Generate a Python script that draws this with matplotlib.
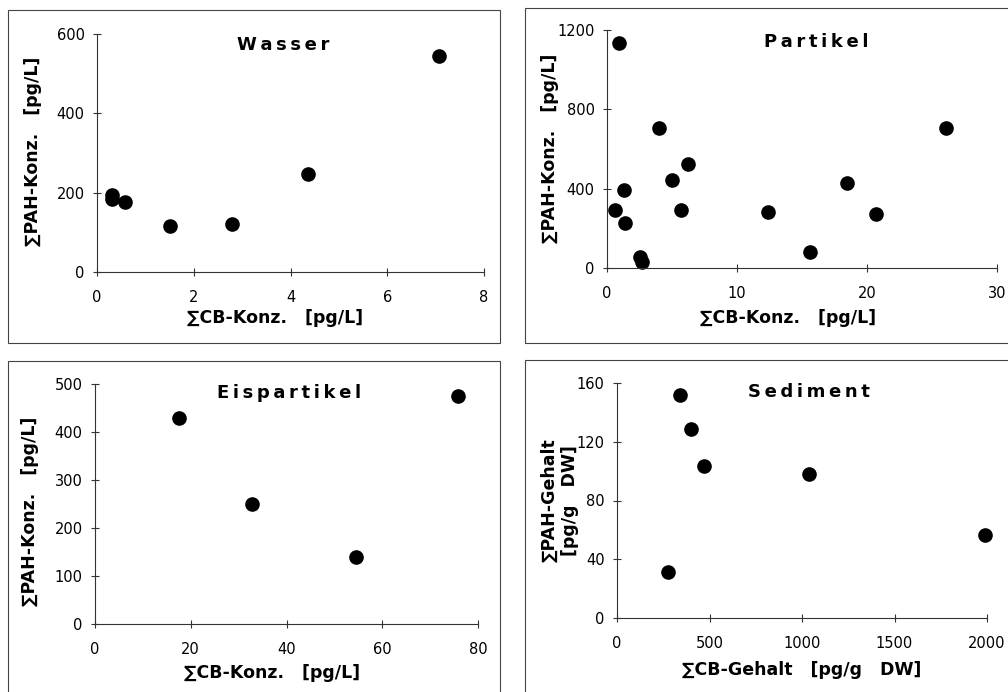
import matplotlib.pyplot as plt
from matplotlib.patches import Rectangle

plt.rcParams['font.family'] = ['DejaVu Sans']

# Wasser
wasser_cb = [0.32, 0.32, 0.58, 1.50, 2.79, 4.37, 7.08]
wasser_pah = [195, 184, 176, 115, 121, 247, 544]

# Partikel
partikel_cb = [0.90, 0.59, 1.28, 1.41, 2.52, 2.70, 3.98, 5.01, 6.24, 5.73,
               12.41, 15.62, 18.44, 20.68, 26.10]
partikel_pah = [1136, 294, 391, 226, 55, 30, 705, 445, 523, 294,
                284, 79, 428, 273, 705]

# Eispartikel
eis_cb = [17.6, 32.7, 54.5, 75.8]
eis_pah = [430, 251, 140, 476]

# Sediment
sed_cb = [339, 402, 472, 274, 1036, 1987]
sed_pah = [152, 128.6, 103.8, 31.4, 97.9, 56.4]

W, H = 1008, 692
fig = plt.figure(figsize=(W / 100, H / 100), dpi=100)


def px_axes(left, right, top, bottom):
    return fig.add_axes([left / W, 1 - bottom / H, (right - left) / W, (bottom - top) / H])


def frame(x0, y0, x1, y1):
    fig.patches.append(Rectangle((x0 / W, 1 - y1 / H), (x1 - x0) / W, (y1 - y0) / H,
                                 transform=fig.transFigure, fill=False,
                                 edgecolor='#444444', linewidth=0.8))


def spaced(s):
    return '\u2009'.join(s)


def panel(ax, x, y, xmax, xticks, ymax, yticks, title, tpos, xlabel, xlpos, ylabel, ylpos):
    ax.plot(x, y, 'o', color='black', markersize=9.5, clip_on=False)
    ax.set_xlim(0, xmax)
    ax.set_ylim(0, ymax)
    ax.set_xticks(xticks)
    ax.set_yticks(yticks)
    for s in ['top', 'right']:
        ax.spines[s].set_visible(False)
    for s in ['left', 'bottom']:
        ax.spines[s].set_linewidth(0.8)
        ax.spines[s].set_color('#333333')
    ax.tick_params(direction='inout', length=6, width=0.8, color='#333333',
                   labelsize=10.5)
    ax.tick_params(axis='x', pad=10)
    ax.tick_params(axis='y', pad=6)
    ax.set_xlabel(xlabel, fontsize=12.5, fontweight='bold', va='center')
    ax.xaxis.set_label_coords(*xlpos)
    ax.set_ylabel(ylabel, fontsize=12.5, fontweight='bold', va='center')
    ax.yaxis.set_label_coords(*ylpos)
    ax.text(tpos[0], tpos[1], spaced(title), transform=ax.transAxes,
            ha='center', va='center', fontsize=13, fontweight='bold')


frame(8, 10, 500, 343)
frame(525, 8, 1040, 343)
frame(8, 361, 500, 720)
frame(525, 360, 1040, 720)

ax1 = px_axes(97, 484, 34, 272)
panel(ax1, wasser_cb, wasser_pah, 8, [0, 2, 4, 6, 8], 600, [0, 200, 400, 600],
      'Wasser', (0.48, 0.954),
      '∑CB-Konz.   [pg/L]', (0.459, -0.193),
      '∑PAH-Konz.   [pg/L]', (-0.165, 0.506))

ax2 = px_axes(607, 997, 30, 268)
panel(ax2, partikel_cb, partikel_pah, 30, [0, 10, 20, 30], 1200, [0, 400, 800, 1200],
      'Partikel', (0.536, 0.95),
      '∑CB-Konz.   [pg/L]', (0.465, -0.21),
      '∑PAH-Konz.   [pg/L]', (-0.146, 0.504))

ax3 = px_axes(95, 478, 384, 624)
panel(ax3, eis_cb, eis_pah, 80, [0, 20, 40, 60, 80], 500, [0, 100, 200, 300, 400, 500],
      'Eispartikel', (0.507, 0.9625),
      '∑CB-Konz.   [pg/L]', (0.463, -0.204),
      '∑PAH-Konz.   [pg/L]', (-0.17, 0.47))

ax4 = px_axes(617, 987, 383, 618)
panel(ax4, sed_cb, sed_pah, 2000, [0, 500, 1000, 1500, 2000], 160, [0, 40, 80, 120, 160],
      'Sediment', (0.519, 0.96),
      '∑CB-Gehalt   [pg/g   DW]', (0.5, -0.221),
      '∑PAH-Gehalt\n[pg/g   DW]', (-0.155, 0.5))

fig.savefig('out.png', dpi=100)
